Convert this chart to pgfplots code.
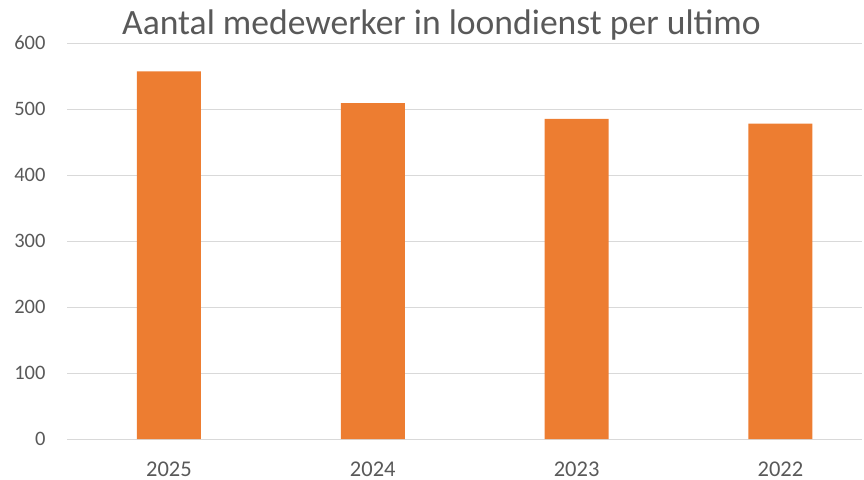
\documentclass[border=0pt]{standalone}
\usepackage{pgfplots}
\pgfplotsset{compat=1.18}
\usepackage{fontspec}
\setmainfont{Carlito}
\definecolor{barc}{HTML}{ED7D31}
\definecolor{gridc}{HTML}{D9D9D9}
\definecolor{txt}{HTML}{595959}
\begin{document}
\begin{tikzpicture}
\useasboundingbox (-67bp,-41bp) rectangle (797bp,439bp);
\begin{axis}[
  at={(0bp,0bp)}, anchor=south west,
  scale only axis, width=795bp, height=396bp,
  xmin=-0.5, xmax=3.4, ymin=0, ymax=600,
  xtick={0,1,2,3}, xticklabels={2025,2024,2023,2022},
  ytick={0,100,...,600},
  major tick length=0pt,
  axis line style={draw=none},
  ymajorgrids, grid style={gridc, line width=1pt},
  /pgf/number format/assume math mode=true,
  tick label style={text=txt},
  yticklabel style={font=\fontsize{20.5bp}{20.5bp}\selectfont, xshift=-18bp},
  xticklabel style={font=\fontsize{22.5bp}{22.5bp}\selectfont, yshift=-19bp},
  clip=false,
]
\addplot[ybar, bar width=64bp, fill=barc, draw=none] coordinates {(0,557) (1,509) (2,485) (3,478)};
\end{axis}
\node[text=txt, font=\fontsize{35.6bp}{40bp}\selectfont, anchor=base] at (374.5bp,404bp) {Aantal medewerker in loondienst per ultimo};
\end{tikzpicture}
\end{document}
